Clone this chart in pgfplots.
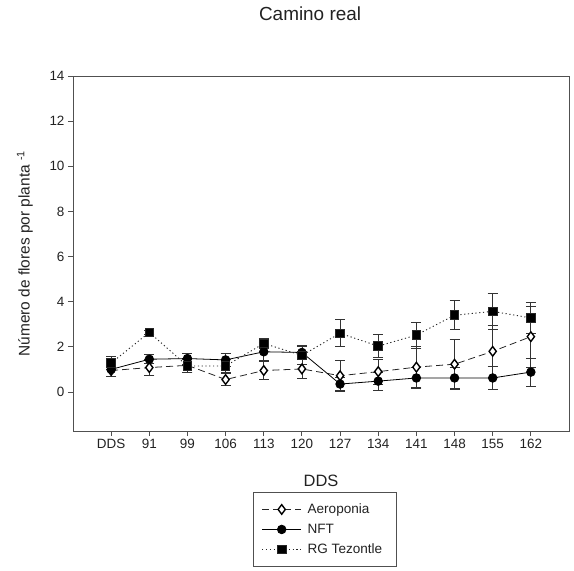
\documentclass[border=0pt]{standalone}
\usepackage{pgfplots}
\usepackage{pgfplotstable}
\pgfplotsset{compat=1.18}
\usepackage{fontspec}
\setmainfont{Liberation Sans}
\definecolor{axgrey}{HTML}{505050}
\definecolor{txt}{HTML}{222222}

% x = category index (DDS, 91, 99, ...), y = mean, e = error
\pgfplotstableread{
x y e
0 0.95 0.25
1 1.08 0.35
2 1.18 0.30
3 0.55 0.28
4 0.95 0.40
5 1.02 0.42
6 0.72 0.70
7 0.90 0.55
8 1.10 0.90
9 1.23 1.10
10 1.80 1.15
11 2.45 1.35
}\aero
\pgfplotstableread{
x y e
0 1.00 0.30
1 1.45 0.20
2 1.48 0.25
3 1.42 0.28
4 1.78 0.40
5 1.75 0.30
6 0.35 0.30
7 0.48 0.40
8 0.62 0.45
9 0.62 0.45
10 0.62 0.50
11 0.88 0.62
}\nft
\pgfplotstableread{
x y e
0 1.28 0.30
1 2.64 0.08
2 1.15 0.30
3 1.15 0.30
4 2.15 0.22
5 1.62 0.40
6 2.60 0.60
7 2.03 0.50
8 2.52 0.58
9 3.40 0.65
10 3.57 0.80
11 3.28 0.68
}\rg

\begin{document}
\begin{tikzpicture}
\begin{axis}[
  scale only axis, width=496bp, height=355bp,
  xmin=-1, xmax=12, ymin=-1.73, ymax=14,
  xtick={0,...,11},
  xticklabels={DDS,91,99,106,113,120,127,134,141,148,155,162},
  ytick={0,2,...,14},
  tick align=outside, xtick pos=bottom, ytick pos=left,
  major tick length=5bp,
  axis line style={axgrey,line width=0.9pt},
  tick style={axgrey,line width=0.9pt},
  tick label style={font=\fontsize{13.5}{15}\selectfont,text=txt},
  /pgf/number format/assume math mode=true,
  title={Camino real},
  title style={at={(axis description cs:0.478,1.158)},anchor=center,
               font=\fontsize{19}{22}\selectfont,text=txt},
  xlabel={DDS},
  xlabel style={at={(axis description cs:0.5,-0.141)},anchor=center,
                font=\fontsize{16.5}{19}\selectfont,text=txt},
  ylabel={Número de flores por planta \textsuperscript{-1}},
  ylabel style={at={(axis description cs:-0.097,0.5)},anchor=center,
                font=\fontsize{15.5}{18}\selectfont,text=txt},
  legend style={at={(0.508,-0.173)},anchor=north,draw=axgrey,line width=0.8pt,
                font=\fontsize{13.6}{16}\selectfont,text=txt,
                row sep=5pt,inner xsep=8pt,inner ysep=9pt,
                cells={anchor=west},
                nodes={inner xsep=6pt}},
  legend image code/.code={
    \draw[mark repeat=2,mark phase=2,#1]
      plot coordinates {(0bp,0bp) (19.5bp,0bp) (39bp,0bp)};},
  error bars/y dir=both, error bars/y explicit,
  error bars/error bar style={solid,black!80,line width=0.8pt},
  error bars/error mark options={rotate=90,mark size=5bp,black!80,line width=0.8pt},
]
\addplot[black!85,line width=0.8pt,dash pattern=on 7bp off 4bp,
  mark=diamond*,mark size=4.8bp,
  mark options={solid,fill=white,draw=black,line width=1.4pt}]
  table[x=x,y=y,y error=e] {\aero};
\addplot[black,line width=0.8pt,
  mark=*,mark size=4.3bp,mark options={solid,fill=black}]
  table[x=x,y=y,y error=e] {\nft};
\addplot[black!85,line width=0.9pt,dash pattern=on 1.2bp off 2.6bp,
  mark=square*,mark size=4.3bp,mark options={solid,fill=black}]
  table[x=x,y=y,y error=e] {\rg};
\legend{Aeroponia,NFT,RG Tezontle}
\end{axis}
\pgfresetboundingbox
\path[use as bounding box] (-73bp,-140bp) rectangle (501bp,431bp);
\end{tikzpicture}
\end{document}
